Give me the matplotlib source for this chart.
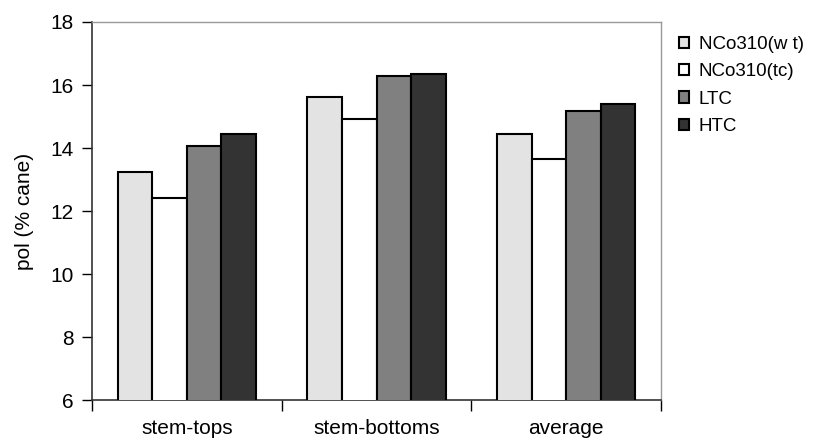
import numpy as np
import matplotlib.pyplot as plt

plt.rcParams['font.family'] = ['Liberation Sans', 'DejaVu Sans']

categories = ['stem-tops', 'stem-bottoms', 'average']
series_names = ['NCo310(w t)', 'NCo310(tc)', 'LTC', 'HTC']
wt_vals = [13.24, 15.62, 14.43]
tc_vals = [12.41, 14.92, 13.66]
ltc_vals = [14.07, 16.29, 15.17]
htc_vals = [14.43, 16.35, 15.39]
colors = ['#e3e3e3', '#ffffff', '#808080', '#333333']

fig = plt.figure(figsize=(8.14, 4.48), dpi=100)
ax = fig.add_axes([92 / 814, 48 / 448, 569 / 814, 378 / 448])

x = np.arange(len(categories))
width = 0.182
all_vals = [wt_vals, tc_vals, ltc_vals, htc_vals]
for i, (vals, name, c) in enumerate(zip(all_vals, series_names, colors)):
    ax.bar(x + (i - 1.5) * width, vals, width, color=c, edgecolor='black',
           linewidth=1.5, label=name, zorder=3)

ax.set_xlim(-0.5, 2.5)
ax.set_ylim(6, 18)
ax.set_yticks(range(6, 19, 2))
ax.tick_params(axis='y', labelsize=15, length=7, width=1, direction='out', pad=6)
ax.set_xticks(x)
ax.set_xticklabels(categories, fontsize=15)
ax.tick_params(axis='x', length=0, pad=14)
# category boundary ticks below axis
ax.set_xticks(np.arange(-0.5, 3, 1), minor=True)
ax.tick_params(axis='x', which='minor', length=8, width=1, direction='out')

ax.set_ylabel('pol (% cane)', fontsize=15, labelpad=12)
for s in ['left', 'bottom']:
    ax.spines[s].set_color('#333333')
    ax.spines[s].set_linewidth(1.2)
for s in ['top', 'right']:
    ax.spines[s].set_color('#999999')
    ax.spines[s].set_linewidth(1)

fig.legend(loc='upper left', bbox_to_anchor=(679 / 814, 1 - 36 / 448),
           frameon=False, fontsize=13.5, handlelength=0.55, handleheight=0.55,
           handletextpad=0.5, labelspacing=0.55, borderaxespad=0, borderpad=0)

fig.savefig('out.png', dpi=100)
